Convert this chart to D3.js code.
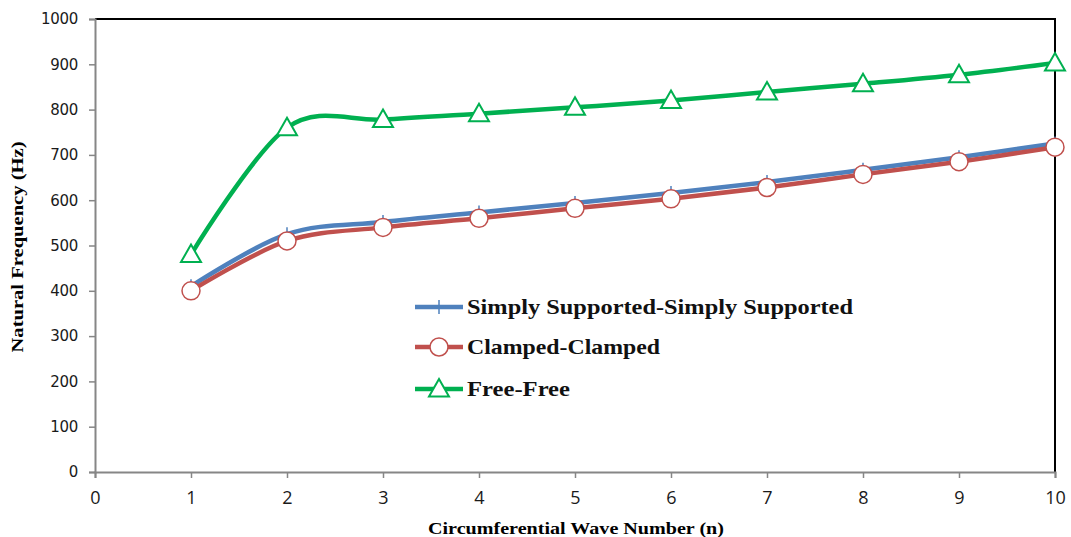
<!DOCTYPE html>
<html>
<head>
<meta charset="utf-8">
<script src="https://cdn.jsdelivr.net/npm/d3@7"></script>
<style>
  body { margin: 0; background: #fff; }
  svg { display: block; }
</style>
</head>
<body>
<div id="chart-area"></div>
<script>
// data
let waveNumbers = [1, 2, 3, 4, 5, 6, 7, 8, 9, 10];
let simplySupported = [410, 525, 552, 573, 594, 616, 640, 667, 695, 725];
let clampedClamped = [400, 510, 540, 560, 582, 603, 628, 657, 685, 717];
let freeFree = [480, 760, 778, 791, 805, 820, 839, 857, 877, 903];
let yTicks = [0, 100, 200, 300, 400, 500, 600, 700, 800, 900, 1000];
let xTicks = [0, 1, 2, 3, 4, 5, 6, 7, 8, 9, 10];
let seriesNames = ["Simply Supported-Simply Supported", "Clamped-Clamped", "Free-Free"];

let W = 1071, H = 537;
let margin = {top: 19, right: 16, bottom: 65, left: 95};
let width = W - margin.left - margin.right;
let height = H - margin.top - margin.bottom;

let svg = d3.select("#chart-area").append("svg")
		.attr("width", W)
		.attr("height", H)
	.append("g")
		.attr("transform", "translate(" + margin.left + "," + margin.top + ")");

let xScale = d3.scaleLinear().domain([0, 10]).range([0, 960]);
let yScale = d3.scaleLinear().domain([0, 1000]).range([height, 0]);

// plot area border (top and right are black)
svg.append("path")
	.attr("d", `M0,0H${xScale(10)}V${height}`)
	.attr("fill", "none")
	.attr("stroke", "#000")
	.attr("stroke-width", 2);

// axes
let yAxis = d3.axisLeft(yScale).tickValues(yTicks).tickFormat(d3.format("d")).tickSize(6).tickPadding(11);
let xAxis = d3.axisBottom(xScale).tickValues(xTicks).tickFormat(d3.format("d")).tickSize(6).tickPadding(13);

let yAxisGroup = svg.append("g").attr("class", "y-axis").call(yAxis);
let xAxisGroup = svg.append("g").attr("class", "x-axis")
	.attr("transform", "translate(0," + height + ")")
	.call(xAxis);

[yAxisGroup, xAxisGroup].forEach(g => {
	g.select(".domain").attr("stroke", "#868686").attr("stroke-width", 2);
	g.selectAll(".tick line").attr("stroke", "#868686").attr("stroke-width", 1.5);
	g.selectAll(".tick text").attr("fill", "#1a1a1a");
});
yAxisGroup.selectAll(".tick text")
	.style("font-family", "'DejaVu Sans', Verdana, sans-serif")
	.style("font-size", "15px")
	.style("letter-spacing", "-0.3px");
xAxisGroup.selectAll(".tick text")
	.style("font-family", "'Open Sans', 'Liberation Sans', sans-serif")
	.style("font-size", "18px");

// axis titles
svg.append("text")
	.attr("transform", `translate(${17 - margin.left},${247 - margin.top}) rotate(-90)`)
	.attr("text-anchor", "middle")
	.attr("dy", "0.35em")
	.style("font-family", "'Liberation Serif', 'DejaVu Serif', serif")
	.style("font-weight", "bold")
	.style("font-size", "16.5px")
	.attr("textLength", 211)
	.attr("lengthAdjust", "spacingAndGlyphs")
	.text("Natural Frequency (Hz)");

svg.append("text")
	.attr("x", 576 - margin.left)
	.attr("y", 528 - margin.top)
	.attr("text-anchor", "middle")
	.attr("dy", "0.35em")
	.style("font-family", "'Liberation Serif', 'DejaVu Serif', serif")
	.style("font-weight", "bold")
	.style("font-size", "16px")
	.attr("textLength", 296)
	.attr("lengthAdjust", "spacingAndGlyphs")
	.text("Circumferential Wave Number (n)");

let series = [
	{name: seriesNames[0], values: simplySupported, color: "#4F81BD", marker: "plus", textLen: 386},
	{name: seriesNames[1], values: clampedClamped, color: "#C0504D", marker: "circle", textLen: 193},
	{name: seriesNames[2], values: freeFree, color: "#00B050", marker: "triangle", textLen: 103}
];

let line = d3.line()
	.x((d, i) => xScale(waveNumbers[i]))
	.y(d => yScale(d))
	.curve(d3.curveCatmullRom.alpha(0));

function drawMarker(g, type, color) {
	if (type === "plus") {
		g.append("path")
			.attr("d", "M-5,0H5M0,-7V7")
			.attr("stroke", color)
			.attr("stroke-width", 1.5);
	} else if (type === "circle") {
		g.append("circle")
			.attr("r", 9)
			.attr("fill", "#fff")
			.attr("stroke", color)
			.attr("stroke-width", 1.5);
	} else {
		g.append("path")
			.attr("d", "M0,-10L10,7.5H-10Z")
			.attr("fill", "#fff")
			.attr("stroke", color)
			.attr("stroke-width", 2);
	}
}

series.forEach(s => {
	svg.append("path")
		.attr("class", "line-path")
		.attr("d", line(s.values))
		.attr("fill", "none")
		.attr("stroke", s.color)
		.attr("stroke-width", 4.5);

	s.values.forEach((v, i) => {
		let g = svg.append("g")
			.attr("transform", `translate(${xScale(waveNumbers[i])},${yScale(v)})`);
		drawMarker(g, s.marker, s.color);
	});
});

// legend
let legendY = [307, 347, 389];
series.forEach((s, i) => {
	let g = svg.append("g")
		.attr("transform", `translate(${415 - margin.left},${legendY[i] - margin.top})`);
	g.append("line")
		.attr("x1", 0).attr("x2", 48)
		.attr("stroke", s.color)
		.attr("stroke-width", 4.5);
	let m = g.append("g").attr("transform", "translate(24,0)");
	drawMarker(m, s.marker, s.color);
	g.append("text")
		.attr("x", 52)
		.attr("dy", "0.35em")
		.style("font-family", "'Liberation Serif', 'DejaVu Serif', serif")
		.style("font-weight", "bold")
		.style("font-size", "21px")
		.attr("textLength", s.textLen)
		.attr("lengthAdjust", "spacingAndGlyphs")
		.attr("fill", "#111")
		.text(s.name);
});
</script>
</body>
</html>
